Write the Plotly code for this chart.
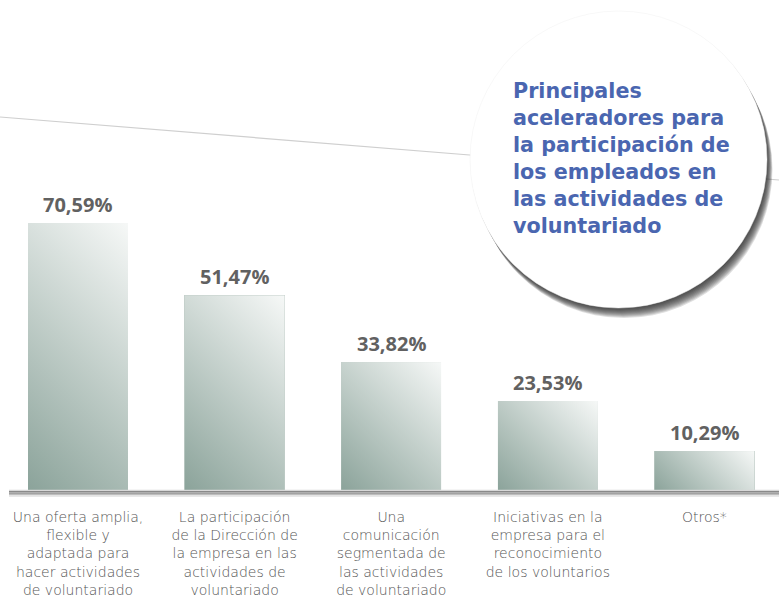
import base64
import plotly.graph_objects as go

categories = [
    "Una oferta amplia,<br>flexible y<br>adaptada para<br>hacer actividades<br>de voluntariado",
    "La participación<br>de la Dirección de<br>la empresa en las<br>actividades de<br>voluntariado",
    "Una<br>comunicación<br>segmentada de<br>las actividades<br>de voluntariado",
    "Iniciativas en la<br>empresa para el<br>reconocimiento<br>de los voluntarios",
    "Otros*",
]
values = [70.59, 51.47, 33.82, 23.53, 10.29]
title_lines = [
    "Principales",
    "aceleradores para",
    "la participación de",
    "los empleados en",
    "las actividades de",
    "voluntariado",
]

W, H = 779, 599
PLOT_BOTTOM = 490  # pixel y of axis
YMAX = 129.55
BAR_W = 0.64
X_RANGE = [-0.498, 4.476]
px_per_unit = PLOT_BOTTOM / YMAX
px_per_cat = W / (X_RANGE[1] - X_RANGE[0])


def px(xp):
    return xp / W


def py(yp):
    return (PLOT_BOTTOM - yp) / PLOT_BOTTOM


def grad_svg(wpx, hpx):
    d = (wpx + hpx) / 2.0
    svg = (
        f"<svg xmlns='http://www.w3.org/2000/svg' width='{wpx:.0f}' height='{hpx:.0f}' "
        f"viewBox='0 0 {wpx:.2f} {hpx:.2f}' preserveAspectRatio='none'>"
        f"<defs><linearGradient id='g' gradientUnits='userSpaceOnUse' "
        f"x1='0' y1='{hpx:.2f}' x2='{d:.2f}' y2='{hpx - d:.2f}'>"
        f"<stop offset='0' stop-color='#8ba39a'/><stop offset='1' stop-color='#f6f8f7'/>"
        f"</linearGradient></defs>"
        f"<rect x='0' y='0' width='{wpx:.2f}' height='{hpx:.2f}' fill='url(#g)'/></svg>"
    )
    return "data:image/svg+xml;base64," + base64.b64encode(svg.encode()).decode()


xs = list(range(len(values)))

fig = go.Figure()
fig.add_trace(go.Bar(
    x=xs, y=values, width=BAR_W,
    marker=dict(color="#c2cec9", line=dict(width=0)),
    hoverinfo="skip",
))

images = []
annotations = []
for i, v in zip(xs, values):
    images.append(dict(
        source=grad_svg(BAR_W * px_per_cat, v * px_per_unit),
        xref="x", yref="y", x=i - BAR_W / 2, y=v,
        sizex=BAR_W, sizey=v, xanchor="left", yanchor="top",
        sizing="stretch", layer="above",
    ))
    annotations.append(dict(
        xref="x", yref="y", x=i, y=v, yanchor="bottom", yshift=3,
        text=f"{v:.2f}".replace(".", ",") + "%", showarrow=False,
        font=dict(family="Open Sans", size=20, color="#616161", weight="bold"),
    ))

# title inside circle (single text block)
annotations.append(dict(
    xref="paper", yref="paper", x=px(511), y=py(158.5),
    xanchor="left", yanchor="middle", align="left",
    text="<br>".join(title_lines), showarrow=False,
    font=dict(family="DejaVu Sans", size=20.7, color="#4a66b0", weight="bold"),
))

shapes = []
# thin diagonal line behind the circle
shapes.append(dict(type="line", xref="paper", yref="paper",
                   x0=px(0), y0=py(117), x1=px(779), y1=py(180),
                   line=dict(color="#cfcfcf", width=1.2), layer="below"))
# circle shadow
cx, cy, r = 618.5, 159.5, 148.5
for k in range(1, 11):
    dx, dy = 0.55 * k, 1.0 * k
    shapes.append(dict(type="circle", xref="paper", yref="paper",
                       x0=px(cx - r + dx), x1=px(cx + r + dx),
                       y0=py(cy + r + dy), y1=py(cy - r + dy),
                       fillcolor="rgba(40,40,40,0.15)", line=dict(width=0),
                       layer="above"))
shapes.append(dict(type="circle", xref="paper", yref="paper",
                   x0=px(cx - r), x1=px(cx + r), y0=py(cy + r), y1=py(cy - r),
                   fillcolor="white", line=dict(color="#f0f0f0", width=0.5),
                   layer="above"))
# axis line with shadow
axis_lines = [(490.3, "#d8d8d8", 1.2), (491.8, "#8a8a8a", 1.5), (493.2, "#9a9a9a", 1.5),
              (494.6, "#bdbdbd", 1.5), (496.0, "#e0e0e0", 1.5)]
for yy, col, wdt in axis_lines:
    shapes.append(dict(type="line", xref="paper", yref="paper",
                       x0=px(9), x1=px(779), y0=py(yy), y1=py(yy),
                       line=dict(color=col, width=wdt), layer="above"))

fig.update_layout(
    width=W, height=H,
    margin=dict(l=0, r=0, t=0, b=H - PLOT_BOTTOM, pad=0),
    paper_bgcolor="white", plot_bgcolor="white",
    showlegend=False,
    bargap=0,
    xaxis=dict(range=X_RANGE, tickvals=xs, ticktext=categories, showgrid=False,
               zeroline=False, showline=False, ticks="", ticklabelstandoff=17,
               tickfont=dict(family="DejaVu Sans", size=14, color="#555555", weight=200),
               fixedrange=True),
    yaxis=dict(range=[0, YMAX], showgrid=False, zeroline=False, showline=False,
               showticklabels=False, ticks="", fixedrange=True),
    images=images,
    annotations=annotations,
    shapes=shapes,
)

fig.write_html(
    "out.html",
    config={"displayModeBar": False},
    post_script="document.body.style.margin='0';document.body.style.overflow='hidden';",
)
